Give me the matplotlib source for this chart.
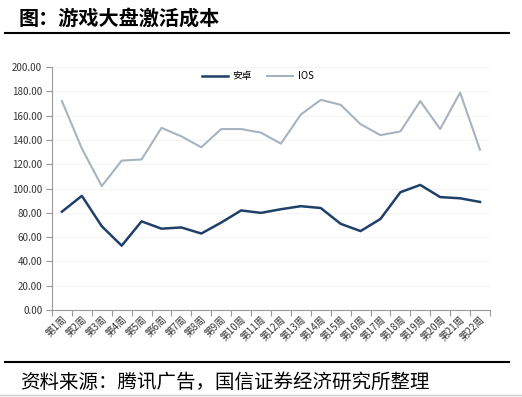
import matplotlib
matplotlib.use("Agg")
import matplotlib.pyplot as plt
from matplotlib.lines import Line2D

plt.rcParams['font.family'] = ['Noto Sans CJK SC', 'DejaVu Sans']

# data
weeks = [f"第{i}周" for i in range(1, 23)]
android = [81, 94, 69, 53, 73, 67, 68, 63, 72, 82, 80, 83, 85.5, 84, 71, 65, 75, 97, 103, 93, 92, 89]
ios = [172, 133, 102, 123, 124, 150, 143, 134, 149, 149, 146, 137, 161, 173, 169, 153, 144, 147, 172, 149, 179, 132]
yticks = [0, 20, 40, 60, 80, 100, 120, 140, 160, 180, 200]

fig = plt.figure(figsize=(5.22, 3.97), dpi=100)
fig.set_facecolor("white")

ax = fig.add_axes([0.0996, 0.219, 0.839, 0.612])
x = range(len(weeks))
ax.plot(x, android, color='#1F4068', linewidth=1.8, label='安卓')
ax.plot(x, ios, color='#A8B3C0', linewidth=1.5, label='IOS')

ax.set_xlim(-0.5, len(weeks) - 0.5)
ax.set_ylim(0, 200)
ax.set_yticks(yticks)
ax.set_yticklabels([f"{v:.2f}" for v in yticks], fontsize=7, color='#333333')
ax.set_xticks([i - 0.5 for i in range(len(weeks) + 1)], minor=False)
ax.set_xticklabels([])
ax.set_xticks(list(x), minor=True)
ax.set_xticklabels(weeks, minor=True, rotation=45, ha='right', va='top',
                   fontsize=7, color='#333333', rotation_mode='anchor')
ax.tick_params(axis='x', which='minor', length=0, pad=3)
ax.tick_params(axis='x', which='major', length=4, color='#999999', direction='out')
ax.tick_params(axis='y', length=4, color='#999999', direction='out', pad=3)

ax.grid(axis='y', color='#F2F2F2', linewidth=0.6)
ax.set_axisbelow(True)
for side in ['top', 'right']:
    ax.spines[side].set_visible(False)
ax.spines['left'].set_color('#999999')
ax.spines['bottom'].set_color('#999999')

ax.legend(loc='upper center', bbox_to_anchor=(0.47, 1.02), ncol=2, frameon=False,
          fontsize=7, handlelength=2.6, columnspacing=1.6, handletextpad=0.5)

# title and source
fig.text(0.035, 0.955, "图：游戏大盘激活成本", fontsize=14.5, fontweight='bold', va='center')
fig.add_artist(Line2D([0.01, 0.975], [0.918, 0.918], color='black', linewidth=1.5))
fig.add_artist(Line2D([0.01, 0.975], [0.088, 0.088], color='black', linewidth=1.5))
fig.add_artist(Line2D([0.0, 1.0], [0.004, 0.004], color='#CCCCCC', linewidth=1.0))
fig.text(0.038, 0.038, "资料来源：腾讯广告，国信证券经济研究所整理", fontsize=14, va='center')

plt.savefig("out.png", dpi=100)
